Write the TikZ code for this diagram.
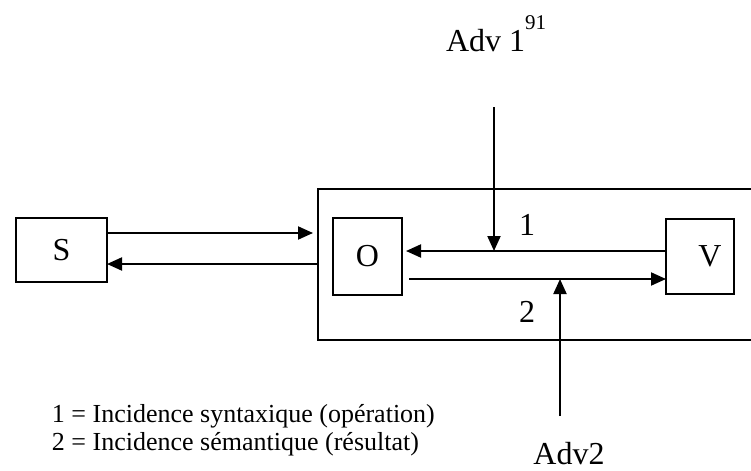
\documentclass[tikz,border=0pt]{standalone}
\usepackage{fontspec}
\setmainfont{Liberation Serif}
\usetikzlibrary{arrows.meta}

\begin{document}
\begin{tikzpicture}[x=0.5pt,y=-0.5pt,
  every node/.style={outer sep=0pt},
  box/.style={draw, line width=0.65pt, inner sep=0pt},
  lbl/.style={inner sep=0pt, font=\fontsize{16}{19}\selectfont},
  key/.style={anchor=base west, inner sep=0pt, font=\fontsize{13}{15}\selectfont},
  arr/.style={line width=1pt, -{Triangle[length=7.5pt,width=6.5pt]}}]
\useasboundingbox (0,0) rectangle (751,471);

% frame round O and V (open on the right)
\draw[line width=0.75pt] (751,189) -- (318,189) -- (318,340) -- (751,340);

\node[box, lbl, minimum width=45.5pt, minimum height=32pt] (S) at (61.5,250) {S};
\node[box, lbl, minimum width=34.5pt, minimum height=38.5pt] (O) at (367.5,256.5) {O};
\node[box, minimum width=34pt, minimum height=37.5pt, label={[lbl, xshift=5pt]center:V}] (V) at (700,256.5) {};

\coordinate (inF) at (313,233);
\coordinate (outF) at (318,264);
\coordinate (o1) at (406,251);
\coordinate (o2) at (409,279);
\coordinate (a1) at (494,107);
\coordinate (a2) at (560,416);

\draw[arr] (S.east |- inF) -- (inF);
\draw[arr] (outF) -- (S.east |- outF);
\draw[arr] (V.west |- o1) -- (o1);
\draw[arr] (o2) -- (V.west |- o2);
\draw[arr] (a1) -- (a1 |- o1);
\draw[arr] (a2) -- (a2 |- o2);

\node[lbl] (n1) at (527,225) {1};
\node[lbl] (n2) at (527,312) {2};
\node[lbl, anchor=base west] (adv1) at (446,52) {Adv 1};
\node[anchor=base west, inner sep=0pt, font=\fontsize{10.5}{12}\selectfont] (n91) at (525,29) {91};
\node[lbl, anchor=base] (adv2) at (569,464) {Adv2};

\node[key] (key1) at (52,422) {1 = Incidence syntaxique (opération)};
\node[key] (key2) at (52,450) {2 = Incidence sémantique (résultat)};
\end{tikzpicture}
\end{document}
